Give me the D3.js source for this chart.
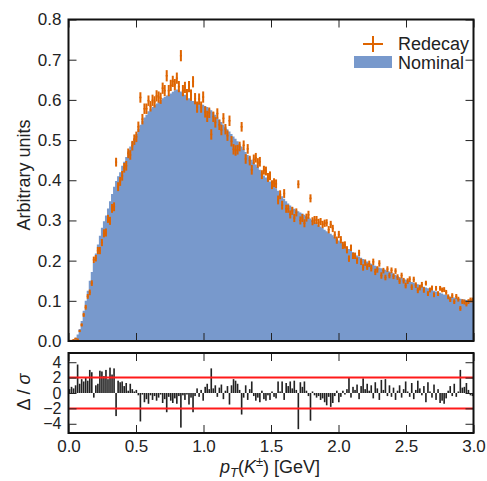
<!DOCTYPE html>
<html>
<head>
<meta charset="utf-8">
<script src="https://cdn.jsdelivr.net/npm/d3@7"></script>
<style>
  body { margin: 0; background: #fff; }
  text { font-family: "Liberation Sans", Arial, sans-serif; fill: #222; }
</style>
</head>
<body>
<div id="chart"></div>
<script>
// 200 bins of 0.015 GeV from 0 to 3 GeV
const binWidth = 0.015;
const xTicks = [0.0, 0.5, 1.0, 1.5, 2.0, 2.5, 3.0];
const yTicks = [0.0, 0.1, 0.2, 0.3, 0.4, 0.5, 0.6, 0.7, 0.8];
const pullTicks = [-4, -2, 0, 2, 4];
const pullLines = [-2, 2];

const nominal = [
  0.001,0.002,0.004,0.008,0.016,0.030,0.050,0.075,0.100,0.125,
  0.150,0.172,0.195,0.218,0.240,0.262,0.282,0.298,0.312,0.330,
  0.348,0.366,0.384,0.398,0.410,0.420,0.436,0.446,0.458,0.472,
  0.484,0.495,0.505,0.515,0.528,0.538,0.548,0.556,0.563,0.572,
  0.578,0.582,0.587,0.591,0.595,0.600,0.604,0.607,0.611,0.613,
  0.616,0.620,0.624,0.626,0.625,0.621,0.617,0.613,0.609,0.604,
  0.600,0.597,0.595,0.594,0.592,0.590,0.588,0.585,0.582,0.578,
  0.574,0.569,0.563,0.557,0.551,0.545,0.539,0.533,0.527,0.521,
  0.515,0.509,0.503,0.497,0.491,0.484,0.477,0.470,0.463,0.457,
  0.451,0.445,0.439,0.433,0.426,0.419,0.412,0.407,0.402,0.397,
  0.392,0.386,0.380,0.374,0.367,0.360,0.354,0.348,0.342,0.337,
  0.333,0.329,0.326,0.323,0.320,0.317,0.314,0.311,0.308,0.305,
  0.301,0.297,0.293,0.289,0.285,0.281,0.277,0.273,0.270,0.267,
  0.263,0.259,0.255,0.250,0.246,0.242,0.237,0.233,0.229,0.225,
  0.221,0.217,0.213,0.210,0.207,0.204,0.201,0.198,0.195,0.192,
  0.189,0.187,0.185,0.183,0.181,0.179,0.177,0.175,0.173,0.171,
  0.168,0.165,0.162,0.159,0.157,0.155,0.153,0.151,0.149,0.147,
  0.145,0.143,0.141,0.139,0.137,0.135,0.133,0.131,0.129,0.127,
  0.125,0.123,0.122,0.120,0.118,0.116,0.115,0.113,0.111,0.110,
  0.108,0.107,0.106,0.105,0.104,0.103,0.102,0.101,0.100,0.099
];

const redecay = [
  0.001,0.001,0.003,0.006,0.004,0.025,0.040,0.065,0.084,0.111,
  0.121,0.144,0.202,0.206,0.225,0.225,0.245,0.268,0.270,0.304,
  0.299,0.330,0.334,0.445,0.384,0.397,0.411,0.431,0.436,0.467,
  0.463,0.486,0.501,0.508,0.533,0.606,0.552,0.578,0.578,0.598,
  0.584,0.599,0.595,0.610,0.607,0.604,0.629,0.623,0.660,0.623,
  0.636,0.646,0.638,0.654,0.633,0.710,0.623,0.631,0.613,0.633,
  0.612,0.645,0.603,0.582,0.602,0.582,0.607,0.570,0.559,0.568,
  0.514,0.558,0.544,0.566,0.538,0.525,0.554,0.527,0.511,0.548,
  0.497,0.477,0.474,0.476,0.484,0.533,0.487,0.453,0.478,0.449,
  0.426,0.452,0.456,0.443,0.446,0.414,0.425,0.423,0.407,0.411,
  0.389,0.394,0.391,0.351,0.364,0.338,0.367,0.329,0.329,0.315,
  0.324,0.306,0.320,0.390,0.300,0.306,0.293,0.307,0.314,0.355,
  0.298,0.301,0.301,0.294,0.297,0.290,0.293,0.294,0.277,0.290,
  0.280,0.264,0.251,0.265,0.252,0.238,0.239,0.227,0.205,0.232,
  0.212,0.212,0.200,0.219,0.197,0.183,0.195,0.185,0.192,0.181,
  0.197,0.172,0.178,0.193,0.163,0.175,0.158,0.179,0.163,0.176,
  0.161,0.174,0.159,0.149,0.163,0.150,0.138,0.149,0.154,0.134,
  0.153,0.139,0.126,0.133,0.140,0.127,0.144,0.118,0.127,0.132,
  0.115,0.131,0.118,0.131,0.127,0.128,0.121,0.110,0.103,0.113,
  0.098,0.111,0.104,0.081,0.098,0.097,0.092,0.098,0.102,0.102
];

const redecayErr = [
  0.001,0.001,0.001,0.002,0.002,0.003,0.004,0.005,0.006,0.006,
  0.007,0.007,0.008,0.008,0.009,0.009,0.009,0.010,0.010,0.010,
  0.010,0.011,0.011,0.011,0.011,0.011,0.012,0.012,0.012,0.012,
  0.012,0.012,0.013,0.013,0.013,0.013,0.013,0.013,0.013,0.013,
  0.013,0.014,0.014,0.014,0.014,0.014,0.014,0.014,0.014,0.014,
  0.014,0.014,0.014,0.014,0.014,0.014,0.014,0.014,0.014,0.014,
  0.014,0.014,0.014,0.014,0.014,0.014,0.014,0.014,0.014,0.013,
  0.013,0.013,0.013,0.013,0.013,0.013,0.013,0.013,0.013,0.013,
  0.013,0.013,0.013,0.012,0.012,0.012,0.012,0.012,0.012,0.012,
  0.012,0.012,0.012,0.012,0.012,0.011,0.011,0.011,0.011,0.011,
  0.011,0.011,0.011,0.011,0.011,0.011,0.011,0.010,0.010,0.010,
  0.010,0.010,0.010,0.010,0.010,0.010,0.010,0.010,0.010,0.010,
  0.010,0.010,0.010,0.010,0.009,0.009,0.009,0.009,0.009,0.009,
  0.009,0.009,0.009,0.009,0.009,0.009,0.009,0.009,0.008,0.008,
  0.008,0.008,0.008,0.008,0.008,0.008,0.008,0.008,0.008,0.008,
  0.008,0.008,0.008,0.008,0.008,0.007,0.007,0.007,0.007,0.007,
  0.007,0.007,0.007,0.007,0.007,0.007,0.007,0.007,0.007,0.007,
  0.007,0.007,0.007,0.007,0.007,0.007,0.006,0.006,0.006,0.006,
  0.006,0.006,0.006,0.006,0.006,0.006,0.006,0.006,0.006,0.006,
  0.006,0.006,0.006,0.006,0.006,0.006,0.006,0.006,0.006,0.006
];

const pull = [
  0.5,0.8,0.6,1.0,3.7,1.2,1.8,1.5,2.0,1.6,
  3.0,2.7,-0.6,1.0,1.2,2.9,2.8,2.2,3.0,1.8,
  3.3,2.4,3.2,-3.0,1.6,1.4,1.5,0.9,1.3,0.3,
  1.2,0.5,0.2,0.4,-0.3,-3.7,-0.2,-1.2,-0.8,-1.4,
  -0.3,-0.9,-0.4,-1.0,-0.6,-0.2,-1.3,-0.8,-2.5,-0.5,
  -1.0,-1.3,-0.7,-1.4,-0.4,-4.5,-0.3,-0.9,-0.2,-1.5,
  -0.6,-2.5,-0.4,0.6,-0.5,0.4,-1.0,0.8,1.2,0.5,
  3.2,0.6,1.0,-0.5,0.7,1.1,-0.8,0.3,0.9,-1.5,
  1.0,1.8,1.6,1.2,0.4,-2.8,-0.6,1.0,-0.9,0.5,
  1.5,-0.4,-1.0,-0.6,-1.2,0.3,-0.8,-1.0,-0.3,-0.9,
  0.2,-0.5,-0.7,1.5,0.2,1.5,-0.9,1.3,0.9,1.5,
  0.6,1.6,0.4,-4.7,1.4,0.8,1.5,0.3,-0.4,-3.6,
  0.2,-0.3,-0.6,-0.4,-0.9,-0.7,-1.2,-1.6,-0.5,-1.8,
  -1.3,-0.4,0.3,-1.2,-0.5,0.3,-0.2,0.5,2.0,-0.6,
  0.8,0.4,1.1,-0.8,0.9,1.9,0.5,1.2,0.3,1.0,
  -0.7,1.4,0.6,-0.9,1.7,0.4,1.8,-0.4,1.0,-0.5,
  0.7,-0.9,0.3,1.0,-0.6,0.5,1.5,0.2,-0.5,1.3,
  -0.8,0.4,1.6,0.6,-0.3,0.9,-1.2,1.4,0.2,-0.6,
  1.1,-0.9,0.5,-1.3,-1.0,-1.4,-0.7,0.3,0.9,-0.4,
  1.2,-0.5,0.2,3.0,0.7,0.8,1.3,0.4,-0.3,-0.4
];

const config = {
  width: 487,
  height: 481,
  left: 68.5,
  right: 473.5,
  topTop: 19.5,
  topBottom: 341,
  botTop: 353,
  botBottom: 433,
  blue: "#7899cc",
  orange: "#de6400",
  tickLen: 8,
  fontSize: 17
};

const svg = d3.select("#chart").append("svg")
  .attr("width", config.width)
  .attr("height", config.height);

const x = d3.scaleLinear().domain([0, 3]).range([config.left, config.right]);
const y = d3.scaleLinear().domain([0, 0.8]).range([config.topBottom, config.topTop]);
const yPull = d3.scaleLinear().domain([-5.2, 5.2]).range([config.botBottom, config.botTop]);

const bins = nominal.map((v, i) => ({
  x0: i * binWidth,
  x1: (i + 1) * binWidth,
  nom: v,
  red: redecay[i],
  err: redecayErr[i],
  pull: pull[i]
}));

// nominal histogram (filled steps)
const stepData = bins.map(d => [d.x0, d.nom]).concat([[3, bins[bins.length - 1].nom]]);
svg.append("path")
  .datum(stepData)
  .attr("fill", config.blue)
  .attr("d", d3.area()
    .curve(d3.curveStepAfter)
    .x(d => x(d[0]))
    .y0(y(0))
    .y1(d => y(d[1])));

// redecay points with error bars
const pts = svg.append("g")
  .attr("stroke", config.orange)
  .attr("stroke-width", 2)
  .attr("fill", "none");
pts.selectAll("line.v")
  .data(bins)
  .enter().append("line")
  .attr("x1", d => x((d.x0 + d.x1) / 2))
  .attr("x2", d => x((d.x0 + d.x1) / 2))
  .attr("y1", d => y(d.red - d.err))
  .attr("y2", d => y(d.red + d.err));
pts.selectAll("line.h")
  .data(bins)
  .enter().append("line")
  .attr("stroke-width", 1.5)
  .attr("x1", d => x(d.x0))
  .attr("x2", d => x(d.x1))
  .attr("y1", d => y(d.red))
  .attr("y2", d => y(d.red));

// pull bars
const bw = x(binWidth) - x(0);
svg.append("g").selectAll("rect")
  .data(bins)
  .enter().append("rect")
  .attr("x", d => x(d.x0) + bw * 0.1)
  .attr("width", bw * 0.8)
  .attr("y", d => yPull(Math.max(0, d.pull)))
  .attr("height", d => Math.abs(yPull(d.pull) - yPull(0)))
  .attr("fill", "#222");

svg.append("g").selectAll("line")
  .data(pullLines)
  .enter().append("line")
  .attr("x1", config.left)
  .attr("x2", config.right)
  .attr("y1", d => yPull(d))
  .attr("y2", d => yPull(d))
  .attr("stroke", "#ff1a1a")
  .attr("stroke-width", 2);

// axes with inward ticks
function styleAxis(g, size) {
  g.select(".domain").remove();
  g.selectAll(".tick line").attr("stroke", "#222").attr("stroke-width", 1);
  g.selectAll(".tick text")
    .style("font-size", (size || config.fontSize) + "px")
    .style("font-family", "'Liberation Sans', Arial, sans-serif")
    .attr("fill", "#222");
}

svg.append("g")
  .attr("transform", `translate(${config.left},0)`)
  .call(d3.axisLeft(y).tickValues(yTicks).tickFormat(d3.format(".1f"))
    .tickSize(-config.tickLen).tickPadding(7))
  .call(styleAxis);
svg.append("g")
  .attr("transform", `translate(${config.right},0)`)
  .call(d3.axisRight(y).tickValues(yTicks).tickFormat("").tickSize(-config.tickLen))
  .call(styleAxis);
svg.append("g")
  .attr("transform", `translate(0,${config.topTop})`)
  .call(d3.axisTop(x).tickValues(xTicks).tickFormat("").tickSize(-config.tickLen))
  .call(styleAxis);
svg.append("g")
  .attr("transform", `translate(0,${config.topBottom})`)
  .call(d3.axisBottom(x).tickValues(xTicks).tickFormat("").tickSize(-config.tickLen))
  .call(styleAxis);

svg.append("g")
  .attr("transform", `translate(${config.left},0)`)
  .call(d3.axisLeft(yPull).tickValues(pullTicks).tickFormat(d3.format("d"))
    .tickSize(-config.tickLen).tickPadding(7))
  .call(g => styleAxis(g, 16));
svg.append("g")
  .attr("transform", `translate(${config.right},0)`)
  .call(d3.axisRight(yPull).tickValues(pullTicks).tickFormat("").tickSize(-config.tickLen))
  .call(styleAxis);
svg.append("g")
  .attr("transform", `translate(0,${config.botTop})`)
  .call(d3.axisTop(x).tickValues(xTicks).tickFormat("").tickSize(-config.tickLen))
  .call(styleAxis);
svg.append("g")
  .attr("transform", `translate(0,${config.botBottom})`)
  .call(d3.axisBottom(x).tickValues(xTicks).tickFormat(d3.format(".1f"))
    .tickSize(-config.tickLen).tickPadding(7))
  .call(styleAxis);

// frames
[[config.topTop, config.topBottom], [config.botTop, config.botBottom]].forEach(p => {
  svg.append("rect")
    .attr("x", config.left)
    .attr("y", p[0])
    .attr("width", config.right - config.left)
    .attr("height", p[1] - p[0])
    .attr("fill", "none")
    .attr("stroke", "#111")
    .attr("stroke-width", 2);
});

// axis titles
svg.append("text")
  .attr("transform", "translate(30,175) rotate(-90)")
  .attr("text-anchor", "middle")
  .style("font-size", "18px")
  .text("Arbitrary units");

const dl = svg.append("text")
  .attr("transform", "translate(30,392) rotate(-90)")
  .attr("text-anchor", "middle")
  .style("font-size", "18px");
dl.append("tspan").text("Δ");
dl.append("tspan").text(" / ");
dl.append("tspan").style("font-style", "italic").text("σ");

const xl = svg.append("text")
  .attr("x", 270)
  .attr("y", 473)
  .attr("text-anchor", "middle")
  .style("font-size", "18px");
xl.append("tspan").style("font-style", "italic").text("p");
xl.append("tspan").style("font-style", "italic").style("font-size", "13px").attr("dy", 4).text("T");
xl.append("tspan").attr("dy", -4).text("(");
xl.append("tspan").style("font-style", "italic").text("K");
xl.append("tspan").style("font-size", "13px").attr("dy", -7).text("±");
xl.append("tspan").attr("dy", 7).text(") [GeV]");

// legend
const lg = svg.append("g");
lg.append("line")
  .attr("x1", 363).attr("x2", 383).attr("y1", 44).attr("y2", 44)
  .attr("stroke", config.orange).attr("stroke-width", 2);
lg.append("line")
  .attr("x1", 373).attr("x2", 373).attr("y1", 36).attr("y2", 52)
  .attr("stroke", config.orange).attr("stroke-width", 2);
lg.append("text").attr("x", 398).attr("y", 50).style("font-size", "18px").text("Redecay");
lg.append("rect")
  .attr("x", 354).attr("y", 56).attr("width", 38).attr("height", 12)
  .attr("fill", config.blue);
lg.append("text").attr("x", 398).attr("y", 69).style("font-size", "18px").text("Nominal");
</script>
</body>
</html>
